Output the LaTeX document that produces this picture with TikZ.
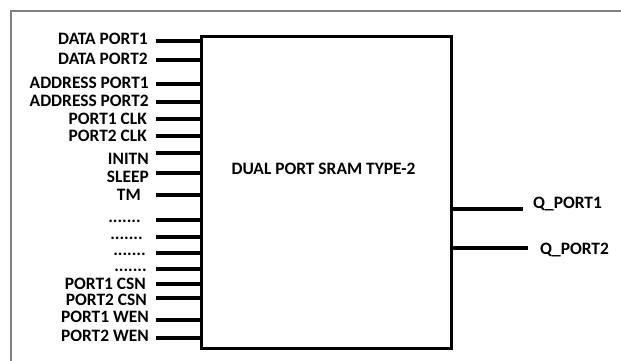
\documentclass[tikz,border=0pt]{standalone}
\usepackage{fontspec}
\setmainfont{Carlito}
\begin{document}
\begin{tikzpicture}[x=1pt,y=-1pt,
  lbl/.style={font=\bfseries\fontsize{17.4}{19}\selectfont, inner sep=0pt, text height=11.2pt, text depth=0pt},
  dotlbl/.style={font=\bfseries\fontsize{17.4}{19}\selectfont, inner sep=0pt, anchor=base east},
  pin/.style={line width=3.6pt},
  frame/.style={draw=black!50, line width=2pt}]
\useasboundingbox (0,0) rectangle (621,361);
% outer frame (left and top only visible)
\draw[frame] (11,362) -- (11,11) -- (622,11);
% main block
\node[draw, line width=3.4pt, minimum width=250pt, minimum height=312pt, inner sep=0pt, anchor=north west] (box) at (200,35) {};
\node[lbl] (title) at (323.5,169) {DUAL PORT SRAM TYPE-2};
% left pins
\foreach \n/\y/\tx/\ty/\t in {
  1/41/148/39/DATA PORT1,
  2/60/148/59/DATA PORT2,
  3/84/149/83/ADDRESS PORT1,
  4/102/149/101/ADDRESS PORT2,
  5/119/147/119/PORT1 CLK,
  6/136/147/136/PORT2 CLK,
  7/153/149/159/INITN,
  8/173/149/177/SLEEP,
  9/195/141/195/TM,
  14/284/146/283.5/PORT1 CSN,
  15/298/147/299.5/PORT2 CSN,
  16/320/149/317/PORT1 WEN,
  17/338/149/336/PORT2 WEN}{
  \node[lbl, anchor=east] (l\n) at (\tx,\ty) {\t};
  \coordinate (p\n) at (156,\y);
  \draw[pin] (p\n) -- (p\n -| box.west);
}
\foreach \n/\y/\tx in {10/220/141, 11/237/143, 12/253/146, 13/269/147}{
  \node[dotlbl] (l\n) at (\tx,\y+2.5) {.......};
  \coordinate (p\n) at (156,\y);
  \draw[pin] (p\n) -- (p\n -| box.west);
}
% right pins
\coordinate (q1) at (523,209);
\coordinate (q2) at (528,248);
\draw[pin] (q1 -| box.east) -- (q1);
\draw[pin] (q2 -| box.east) -- (q2);
\node[lbl, anchor=west] (lq1) at (533,203) {Q\_PORT1};
\node[lbl, anchor=west] (lq2) at (540,249) {Q\_PORT2};
\end{tikzpicture}
\end{document}
